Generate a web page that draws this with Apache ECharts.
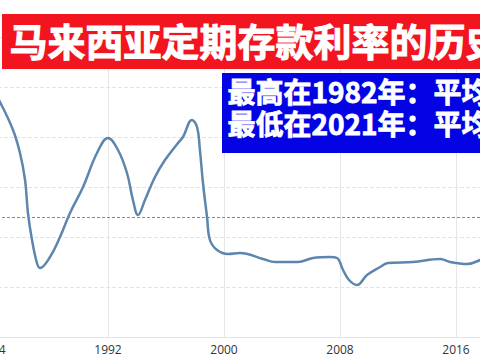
<!DOCTYPE html>
<html>
<head>
<meta charset="utf-8">
<script src="https://cdn.jsdelivr.net/npm/echarts@6/dist/echarts.min.js"></script>
<style>
html,body{margin:0;padding:0;background:#fff;}
#c{width:480px;height:360px;}
</style>
</head>
<body>
<div id="c"></div>
<script>
// Data
var titleText = '马来西亚定期存款利率的历史';
var noteLines = ['最高在1982年：平均', '最低在2021年：平均'];
var years = [1984.0, 1984.55, 1985.45, 1985.93, 1986.28, 1986.48, 1986.76, 1987.1, 1987.31, 1988.0, 1988.69, 1989.38, 1990.28, 1991.24, 1992.0, 1992.69, 1993.31, 1993.72, 1994.07, 1994.55, 1995.24, 1995.93, 1996.83, 1997.17, 1997.79, 1998.14, 1998.34, 1998.55, 1998.83, 1999.03, 1999.52, 2000.28, 2001.1, 2002.69, 2003.52, 2005.1, 2006.14, 2007.31, 2007.79, 2008.21, 2008.62, 2009.17, 2009.86, 2010.76, 2011.31, 2013.03, 2014.9, 2015.59, 2016.76, 2017.66, 2018.3, 2019.0, 2020.0, 2021.0];
var rates = [9.95, 9.4, 8.28, 7.36, 6.28, 4.96, 3.88, 2.96, 2.76, 3.2, 4.0, 4.96, 6.0, 7.36, 7.96, 7.48, 6.56, 5.48, 4.88, 5.48, 6.4, 7.08, 7.76, 8.0, 8.68, 8.4, 7.48, 6.16, 4.8, 3.88, 3.48, 3.32, 3.36, 3.12, 3.0, 3.0, 3.16, 3.2, 3.16, 2.68, 2.28, 2.08, 2.48, 2.8, 2.96, 3.0, 3.12, 3.0, 2.92, 3.08, 3.3, 3.2, 2.4, 1.85];
var averageRate = 4.8;
var xTicks = [1984, 1992, 2000, 2008, 2016];

var chart = echarts.init(document.getElementById('c'), null, {renderer: 'svg'});
var seriesData = years.map(function (y, i) { return [y, rates[i]]; });

chart.setOption({
  animation: false,
  backgroundColor: '#ffffff',
  grid: {left: -8, right: -63, top: 37, bottom: 23, outerBoundsMode: 'none', containLabel: false},
  xAxis: {
    type: 'value', min: 1984, max: 2022, interval: 8,
    axisLine: {show: true, lineStyle: {color: '#e3e3e3'}},
    axisTick: {show: false},
    axisLabel: {
      show: true, color: '#333333', fontSize: 12, fontFamily: 'Open Sans', margin: 6,
      showMaxLabel: false,
      formatter: function (v) { return xTicks.indexOf(v) >= 0 ? String(v) : ''; }
    },
    splitLine: {show: true, lineStyle: {color: '#e6e6e6', type: 'solid', width: 1}}
  },
  yAxis: {
    type: 'value', min: 0, max: 12, interval: 2,
    axisLine: {show: false}, axisTick: {show: false},
    axisLabel: {show: false},
    splitLine: {show: true, lineStyle: {color: '#e3e3e3', type: [4, 2], width: 1}}
  },
  series: [{
    type: 'line',
    data: seriesData,
    smooth: 0.4,
    showSymbol: false,
    lineStyle: {color: '#5c86ae', width: 2.5},
    markLine: {
      silent: true, symbol: 'none', label: {show: false},
      lineStyle: {color: '#888888', type: [3, 2], width: 1},
      data: [{yAxis: averageRate}]
    }
  }],
  graphic: [
    {type: 'rect', left: 2, top: 14, z: 100, shape: {width: 490, height: 55}, style: {fill: '#f2141f'}},
    {type: 'text', left: 9, top: 20, z: 101, style: {text: titleText, fill: '#ffffff', stroke: '#ffffff', lineWidth: 1, font: 'bold 38px "Noto Sans CJK SC"'}},
    {type: 'rect', left: 222, top: 73, z: 100, shape: {width: 270, height: 80}, style: {fill: '#0303e3'}},
    {type: 'text', left: 227, top: 76, z: 101, style: {text: noteLines[0], fill: '#ffffff', stroke: '#ffffff', lineWidth: 0.8, lineHeight: 30, font: 'bold 28px "Noto Sans CJK SC"'}},
    {type: 'text', left: 227, top: 108, z: 101, style: {text: noteLines[1], fill: '#ffffff', stroke: '#ffffff', lineWidth: 0.8, lineHeight: 30, font: 'bold 28px "Noto Sans CJK SC"'}}
  ]
});
</script>
</body>
</html>
